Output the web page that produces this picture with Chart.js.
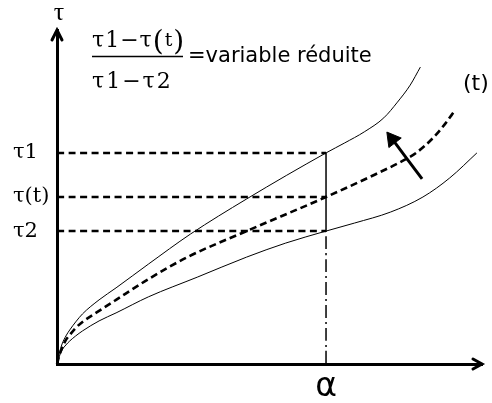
<!DOCTYPE html>
<html>
<head>
<meta charset="utf-8">
<script src="https://cdn.jsdelivr.net/npm/chart.js@4/dist/chart.umd.min.js"></script>
<style>
  html, body { margin: 0; padding: 0; background: #fff; }
  #wrap { width: 492px; height: 403px; position: relative; }
</style>
</head>
<body>
<div id="wrap"><canvas id="c"></canvas></div>
<script>
// ---- data (arbitrary units, 0..100 on both axes) ----
const alphaX = 63.3;
const alphaLabels = ['α'];
const tauLevels = [39.8, 50.0, 63.2];          // τ2, τ(t), τ1
const tauLabels = ['τ2', 'τ(t)', 'τ1'];

const upperX = [0, 0.5, 1.2, 2.1, 3.0, 4.4, 6.0, 9.9, 13.9, 21.5, 31.4, 44.6, 63.3, 67.7, 72.3, 76.9, 80.1, 83.1, 85.5];
const upperY = [0, 3.0, 6.0, 8.4, 10.2, 12.6, 15.0, 19.2, 22.8, 29.9, 38.9, 49.4, 63.2, 66.2, 69.5, 73.7, 78.4, 83.5, 88.9];

const meanX = [0, 0.5, 1.2, 2.1, 3.0, 4.4, 6.0, 9.9, 13.9, 21.5, 30.7, 44.6, 63.3, 74.6, 82.2, 84.5, 88.5, 91.5, 93.5];
const meanY = [0, 2.4, 4.8, 7.2, 8.7, 10.8, 12.6, 15.9, 19.2, 25.4, 32.0, 39.8, 50.0, 56.6, 61.4, 63.2, 67.7, 72.2, 75.7];

const lowerX = [0, 0.5, 1.2, 2.1, 3.0, 4.4, 6.0, 9.9, 13.9, 21.5, 33.0, 44.6, 53.8, 63.3, 70.0, 78.5, 86.1, 92.4, 98.8];
const lowerY = [0, 2.1, 4.2, 5.7, 6.9, 8.4, 9.9, 12.9, 15.3, 20.1, 26.0, 32.0, 36.2, 39.8, 42.2, 45.5, 50.0, 55.7, 63.2];

const arrowX = [85.9, 78.9];
const arrowY = [55.4, 67.3];

const pts = (xs, ys) => xs.map((x, i) => ({ x: x, y: ys[i] }));

const datasets = [];
// horizontal dashed reference lines
tauLevels.forEach(t => datasets.push({
  data: [{ x: 0, y: t }, { x: alphaX, y: t }],
  borderColor: '#000', borderWidth: 2.5, borderDash: [7, 4.5], pointRadius: 0, clip: false
}));
// vertical solid segment between τ2 and τ1
datasets.push({
  data: [{ x: alphaX, y: tauLevels[0] }, { x: alphaX, y: tauLevels[2] }],
  borderColor: '#000', borderWidth: 1.5, pointRadius: 0
});
// dash-dot from axis up to τ2
datasets.push({
  data: [{ x: alphaX, y: 0 }, { x: alphaX, y: tauLevels[0] }],
  borderColor: '#000', borderWidth: 1.5, borderDash: [13, 4, 2, 4], pointRadius: 0
});
// curves
datasets.push({ data: pts(upperX, upperY), borderColor: '#000', borderWidth: 1, pointRadius: 0, cubicInterpolationMode: 'monotone', clip: false });
datasets.push({ data: pts(lowerX, lowerY), borderColor: '#000', borderWidth: 1, pointRadius: 0, cubicInterpolationMode: 'monotone', clip: false });
datasets.push({ data: pts(meanX, meanY), borderColor: '#000', borderWidth: 2.6, borderDash: [7, 4], pointRadius: 0, cubicInterpolationMode: 'monotone', clip: false });
// arrow
datasets.push({
  data: pts(arrowX, arrowY), borderColor: '#000', backgroundColor: '#000', borderWidth: 3,
  pointRadius: [0, 9], pointStyle: 'triangle', rotation: -37.5, pointBorderWidth: 1
});

const axisArrows = {
  id: 'axisArrows',
  afterDraw(chart) {
    const { ctx, chartArea: a } = chart;
    ctx.save();
    ctx.strokeStyle = '#000';
    ctx.lineWidth = 3;
    ctx.lineCap = 'round';
    ctx.lineJoin = 'miter';
    ctx.beginPath();
    ctx.moveTo(a.left - 5, a.top + 10); ctx.lineTo(a.left, a.top); ctx.lineTo(a.left + 5, a.top + 10);
    ctx.moveTo(a.right - 9, a.bottom - 5); ctx.lineTo(a.right, a.bottom); ctx.lineTo(a.right - 9, a.bottom + 5);
    ctx.stroke();

    // axis title τ
    ctx.fillStyle = '#000';
    ctx.textBaseline = 'alphabetic';
    ctx.textAlign = 'center';
    ctx.font = '26px "Liberation Serif"';
    ctx.fillText('τ', a.left + 2, 20);

    // fraction
    const x0 = 92;
    ctx.textAlign = 'left';
    ctx.letterSpacing = '1px';
    const runs = [
      ['τ1−τ', '22px "DejaVu Serif"', 47],
      ['(', '28px "DejaVu Serif"', 50],
      ['t', '19px "DejaVu Serif"', 46],
      [')', '28px "DejaVu Serif"', 50]
    ];
    let x = x0;
    runs.forEach(([s, f, b]) => { ctx.font = f; ctx.fillText(s, x, b); x += ctx.measureText(s).width; });
    ctx.lineWidth = 1.5;
    ctx.lineCap = 'butt';
    ctx.beginPath(); ctx.moveTo(x0, 56.5); ctx.lineTo(183, 56.5); ctx.stroke();
    ctx.letterSpacing = '2px';
    ctx.font = '22px "DejaVu Serif"';
    ctx.fillText('τ1−τ2', x0, 88);
    ctx.letterSpacing = '0px';

    ctx.font = '21px "DejaVu Sans"';
    ctx.fillText('=variable réduite', 188, 62);

    ctx.font = '22px "DejaVu Sans"';
    ctx.fillText('(t)', 463, 90);
    ctx.restore();
  }
};

new Chart(document.getElementById('c'), {
  type: 'scatter',
  data: { datasets },
  options: {
    responsive: true,
    maintainAspectRatio: false,
    animation: false,
    showLine: true,
    layout: { padding: { left: 13, top: 30, right: 2, bottom: 0 } },
    plugins: { legend: { display: false }, tooltip: { enabled: false } },
    elements: { line: { tension: 0.4 } },
    scales: {
      x: {
        type: 'linear', min: 0, max: 100,
        grid: { display: false, drawTicks: false },
        border: { display: true, width: 3, color: '#000' },
        afterFit: s => { s.height = 39; },
        afterBuildTicks: s => { s.ticks = [{ value: alphaX }]; },
        ticks: {
          padding: 4, color: '#000',
          font: { family: '"DejaVu Sans"', size: 33 },
          callback: (v, i) => alphaLabels[i]
        }
      },
      y: {
        type: 'linear', min: 0, max: 100,
        grid: { display: false, drawTicks: false },
        border: { display: true, width: 3, color: '#000' },
        afterFit: s => { s.width = 44; },
        afterBuildTicks: s => { s.ticks = tauLevels.map(v => ({ value: v })); },
        ticks: {
          crossAlign: 'far', padding: 4, color: '#000',
          font: { family: '"DejaVu Serif"', size: 21 },
          callback: (v, i) => tauLabels[i]
        }
      }
    }
  },
  plugins: [axisArrows]
});
</script>
</body>
</html>
